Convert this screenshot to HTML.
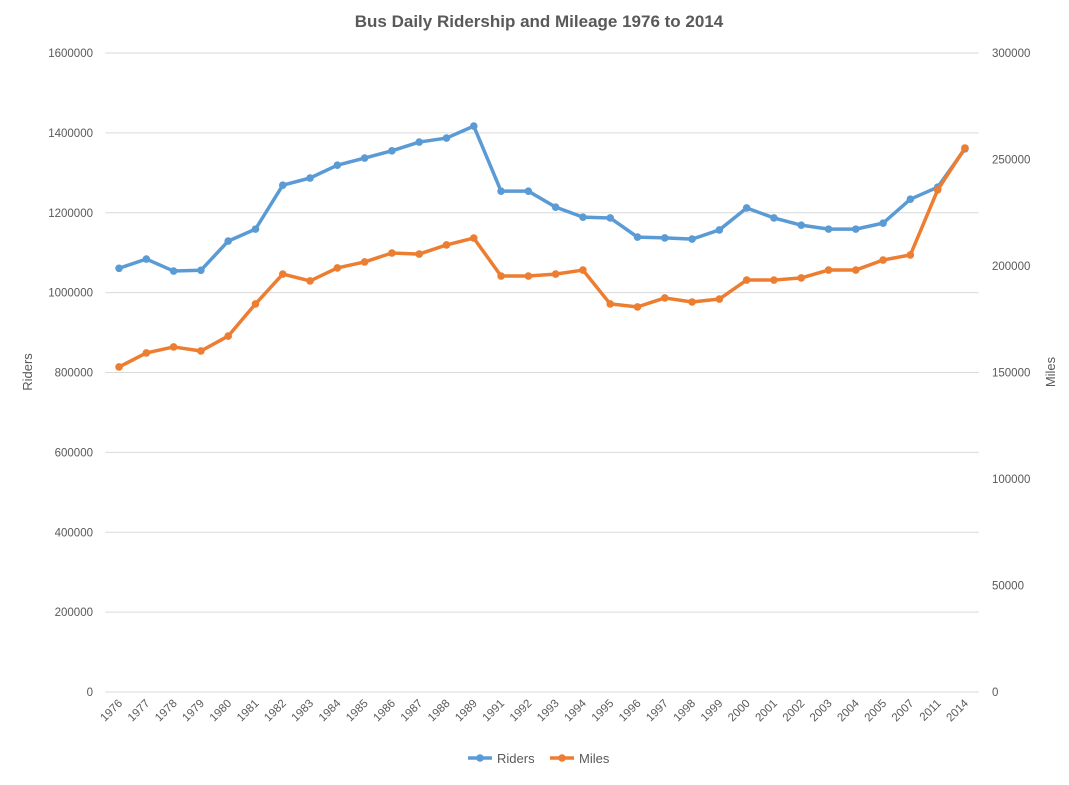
<!DOCTYPE html>
<html><head><meta charset="utf-8"><style>
body{margin:0;background:#fff;font-family:"Liberation Sans",Calibri,sans-serif}
</style></head><body>
<svg id="c" width="1069" height="780" xmlns="http://www.w3.org/2000/svg" font-family="Liberation Sans, sans-serif"></svg>
<script>
const categories=["1976","1977","1978","1979","1980","1981","1982","1983","1984","1985","1986","1987","1988","1989","1991","1992","1993","1994","1995","1996","1997","1998","1999","2000","2001","2002","2003","2004","2005","2007","2011","2014"];
const riders=[1061000,1084000,1054000,1056000,1129000,1159000,1269000,1287000,1319000,1337000,1355000,1377000,1387000,1417000,1254000,1254000,1214000,1189000,1187000,1139000,1137000,1134000,1157000,1212000,1187000,1169000,1159000,1159000,1174000,1234000,1264000,1360000];
const miles=[152600,159200,162000,160100,167100,182200,196200,193000,199100,201900,206100,205600,209900,213100,195300,195300,196200,198100,182200,180800,185000,183100,184500,193400,193400,194400,198100,198100,202800,205200,235700,255400];
const leftTicks=[0,200000,400000,600000,800000,1000000,1200000,1400000,1600000];
const rightTicks=[0,50000,100000,150000,200000,250000,300000];
const svg=document.getElementById('c');const NS='http://www.w3.org/2000/svg';
const L=105.4,R=978.6,T=53,B=692;
const xs=i=>L+(R-L)/categories.length*(i+0.5);
const yl=v=>B-(B-T)*v/1600000;
const yr=v=>B-(B-T)*v/300000;
function el(t,a,p){const e=document.createElementNS(NS,t);for(const k in a)e.setAttribute(k,a[k]);(p||svg).appendChild(e);return e;}
let t=el('text',{x:539,y:27,'text-anchor':'middle','font-size':17,'font-weight':'bold',fill:'#595959'});t.textContent='Bus Daily Ridership and Mileage 1976 to 2014';


leftTicks.forEach(v=>{const g=el('line',{x1:L,x2:R,y1:yl(v),y2:yl(v),stroke:'#d9d9d9','stroke-width':1});


const tx=el('text',{x:93,y:yl(v)+4,'text-anchor':'end','font-size':11.5,fill:'#595959'});tx.textContent=v;

});
rightTicks.forEach(v=>{const tx=el('text',{x:992,y:yr(v)+4,'text-anchor':'start','font-size':11.5,fill:'#595959'});tx.textContent=v;

});
categories.forEach((c,i)=>{const x=xs(i);const tx=el('text',{x:x+4,y:704,'text-anchor':'end','font-size':11.5,fill:'#595959',transform:`rotate(-45 ${x+4} 704)`});tx.textContent=c;

});
let a=el('text',{x:32,y:372,'text-anchor':'middle','font-size':13,fill:'#595959',transform:'rotate(-90 32 372)'});a.textContent='Riders';


a=el('text',{x:1055,y:372,'text-anchor':'middle','font-size':13,fill:'#595959',transform:'rotate(-90 1055 372)'});a.textContent='Miles';


function series(vals,f,col,name){const p=el('polyline',{points:vals.map((v,i)=>xs(i)+','+f(v)).join(' '),fill:'none',stroke:col,'stroke-width':3.5,'stroke-linejoin':'round'});


vals.forEach((v,i)=>{const c=el('circle',{cx:xs(i),cy:f(v),r:3.8,fill:col});

});}
series(riders,yl,'#5b9bd5','riders');
series(miles,yr,'#ed7d31','miles');
[['Riders','#5b9bd5',468],['Miles','#ed7d31',550]].forEach(([n,col,x])=>{const g=el('g',{});


el('line',{x1:x,x2:x+24,y1:758,y2:758,stroke:col,'stroke-width':3.5},g);el('circle',{cx:x+12,cy:758,r:3.8,fill:col},g);
const tx=el('text',{x:x+29,y:763,'font-size':13,fill:'#595959'},g);tx.textContent=n;});
</script>
</body></html>
